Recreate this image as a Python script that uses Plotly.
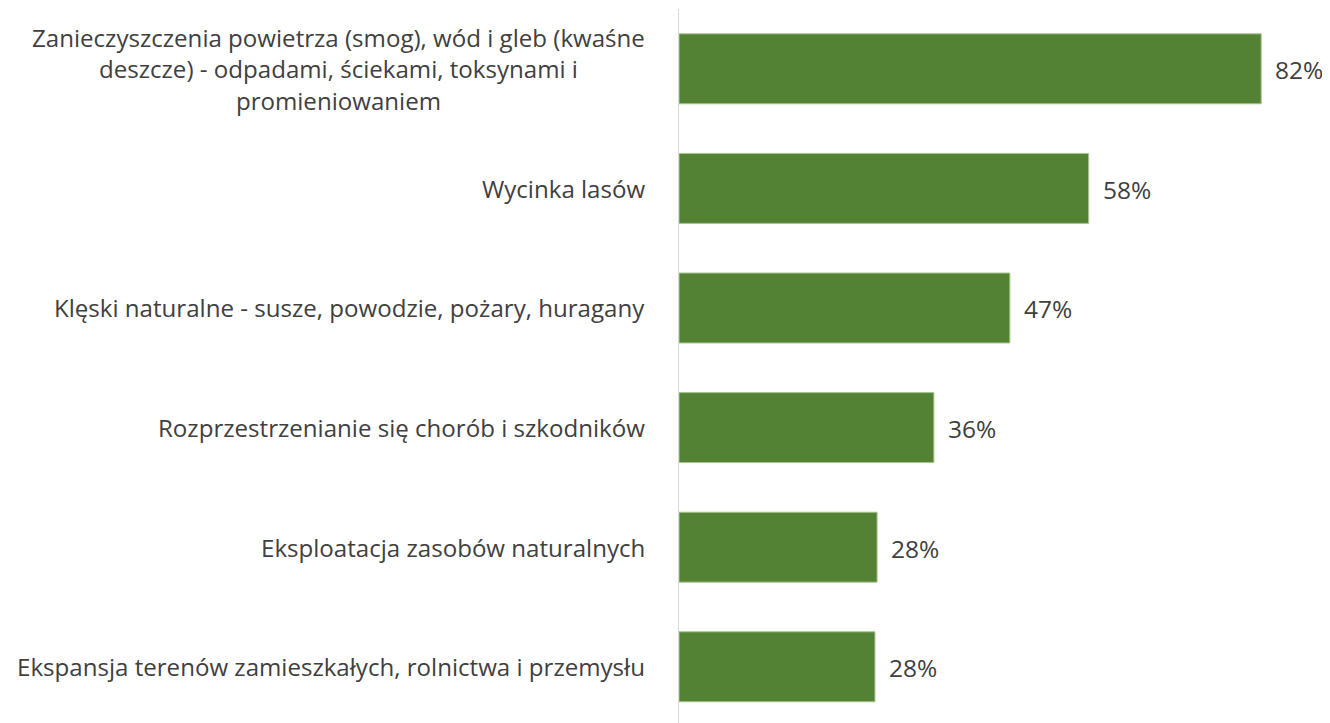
import plotly.graph_objects as go

categories = [
    "Zanieczyszczenia powietrza (smog), wód i gleb (kwaśne<br>deszcze) - odpadami, ściekami, toksynami i<br>promieniowaniem",
    "Wycinka lasów",
    "Klęski naturalne - susze, powodzie, pożary, huragany",
    "Rozprzestrzenianie się chorób i szkodników",
    "Eksploatacja zasobów naturalnych",
    "Ekspansja terenów zamieszkałych, rolnictwa i przemysłu",
]
values = [82, 57.7, 46.6, 35.9, 27.9, 27.6]
value_labels = ["82%", "58%", "47%", "36%", "28%", "28%"]

FONT = "Open Sans"
TXT = "#404040"

fig = go.Figure()
fig.add_trace(go.Bar(
    x=values, y=list(range(len(categories))), orientation="h",
    width=0.585,
    marker=dict(color="#548235", line=dict(color="#a9c48f", width=1)),
    hoverinfo="skip",
))

annotations = []
for i, (cat, v, lab) in enumerate(zip(categories, values, value_labels)):
    annotations.append(dict(x=v, y=i, xref="x", yref="y", text=lab, showarrow=False,
                            xanchor="left", xshift=12, yshift=-1,
                            font=dict(family=FONT, size=24.5, color=TXT)))
    annotations.append(dict(x=0, y=i, xref="x", yref="y", text=cat, showarrow=False,
                            xanchor="right", xshift=-32, align="center",
                            font=dict(family=FONT, size=24.1, color=TXT)))

fig.update_layout(
    width=1322, height=715,
    margin=dict(l=671, r=12, t=1, b=0),
    paper_bgcolor="white", plot_bgcolor="white",
    showlegend=False,
    annotations=annotations,
    xaxis=dict(range=[0, 90], showgrid=False, zeroline=False, showticklabels=False,
               showline=False, fixedrange=True),
    yaxis=dict(range=[5.47, -0.5], showgrid=False, zeroline=False, showticklabels=False,
               showline=True, linecolor="#d9d9d9", linewidth=1, ticks="", fixedrange=True),
)
fig.write_html("out.html")
